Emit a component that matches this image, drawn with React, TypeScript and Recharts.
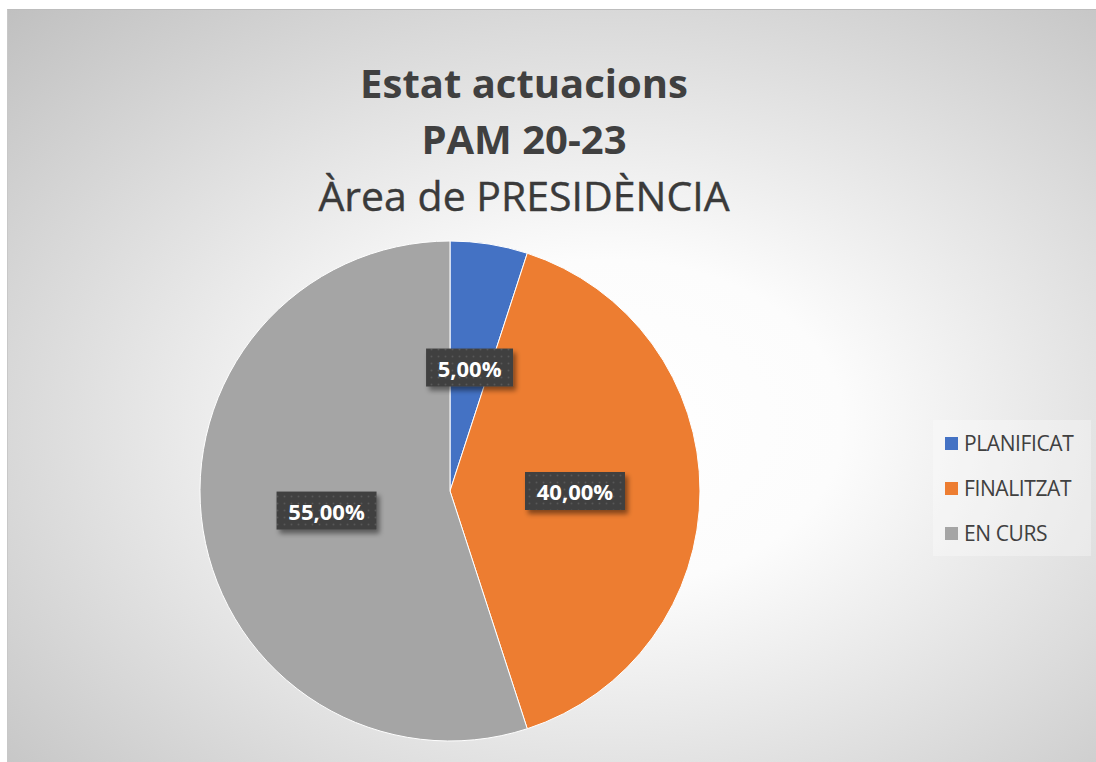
import { Cell, Legend, Pie, PieChart } from 'recharts';

const categories = ['PLANIFICAT', 'FINALITZAT', 'EN CURS'];
const values = [5, 40, 55];
const colors = ['#4472C4', '#ED7D31', '#A5A5A5'];
const titleLines = ['Estat actuacions', 'PAM 20-23', 'Àrea de PRESIDÈNCIA'];

const data = categories.map((name, i) => ({ name, value: values[i] }));
const RAD = Math.PI / 180;
const FONT = '"Open Sans", sans-serif';

function fmt(p: number) {
  return (p * 100).toFixed(2).replace('.', ',') + '%';
}

function DataLabel(props: any) {
  const { cx, cy, midAngle, outerRadius, percent } = props;
  const r = outerRadius * 0.5;
  const x = cx + r * Math.cos(-midAngle * RAD);
  const y = cy + r * Math.sin(-midAngle * RAD);
  const text = fmt(percent);
  const w = text.length * 13 + 22;
  const h = 38;
  return (
    <g>
      <rect x={x - w / 2} y={y - h / 2} width={w} height={h} fill="url(#dots)" filter="url(#shadow)" />
      <text
        x={x}
        y={y}
        textAnchor="middle"
        dominantBaseline="central"
        fill="#ffffff"
        fontFamily={FONT}
        fontWeight={700}
        fontSize={22}
      >
        {text}
      </text>
    </g>
  );
}

function LegendBox() {
  return (
    <div
      style={{
        width: 158,
        height: 136,
        background: 'rgba(255,255,255,0.3)',
        display: 'flex',
        flexDirection: 'column',
        justifyContent: 'center',
        gap: 20,
        paddingLeft: 12,
        boxSizing: 'border-box',
      }}
    >
      {categories.map((c, i) => (
        <div key={c} style={{ display: 'flex', alignItems: 'center', height: 25 }}>
          <span style={{ width: 13, height: 13, background: colors[i], marginRight: 6 }} />
          <span style={{ fontFamily: FONT, fontSize: 21, color: '#404040', letterSpacing: -0.4 }}>{c}</span>
        </div>
      ))}
    </div>
  );
}

export default function App() {
  return (
    <div>
      <style>{'body{margin:0;overflow:hidden}'}</style>
      <svg width={0} height={0} style={{ position: 'absolute' }}>
        <defs>
          <pattern id="dots" width={7} height={7} patternUnits="userSpaceOnUse">
            <rect width={7} height={7} fill="#404040" />
            <circle cx={3.5} cy={3.5} r={1} fill="#585858" />
          </pattern>
          <filter id="shadow" x="-20%" y="-30%" width="150%" height="180%">
            <feDropShadow dx={3} dy={4} stdDeviation={2.5} floodColor="#000" floodOpacity={0.45} />
          </filter>
        </defs>
      </svg>
      <div
        style={{
          position: 'absolute',
          left: 7,
          top: 9,
          width: 1089,
          height: 753,
          borderTop: '1px solid #bdbdbd',
          borderLeft: '1px solid #c8c8c8',
          boxSizing: 'border-box',
          background:
            'radial-gradient(ellipse farthest-corner at 55% 55%, #ffffff 0%, #fcfcfc 28%, #c0c0c0 100%)',
        }}
      >
        <div
          style={{
            position: 'absolute',
            left: 0,
            top: 45,
            width: 1032,
            textAlign: 'center',
            fontFamily: FONT,
            color: '#404040',
            fontSize: 40,
            lineHeight: '56px',
          }}
        >
          <div style={{ fontWeight: 700 }}>{titleLines[0]}</div>
          <div style={{ fontWeight: 700 }}>{titleLines[1]}</div>
          <div style={{ fontSize: 41, color: '#3a3a3a', WebkitTextStroke: '0.4px #3a3a3a' }}>{titleLines[2]}</div>
        </div>
        <PieChart
          width={1088}
          height={752}
          margin={{ top: 0, right: 0, bottom: 0, left: 0 }}
          style={{ position: 'absolute', left: 0, top: 0 }}
        >
          <Pie
            data={data}
            dataKey="value"
            nameKey="name"
            cx={442}
            cy={481}
            outerRadius={250}
            startAngle={90}
            endAngle={-270}
            stroke="#ffffff"
            strokeWidth={1}
            label={DataLabel}
            labelLine={false}
            isAnimationActive={false}
          >
            {data.map((d, i) => (
              <Cell key={d.name} fill={colors[i]} />
            ))}
          </Pie>
          <Legend
            content={<LegendBox />}
            wrapperStyle={{ position: 'absolute', left: 925, top: 410, width: 158 }}
          />
        </PieChart>
      </div>
    </div>
  );
}
